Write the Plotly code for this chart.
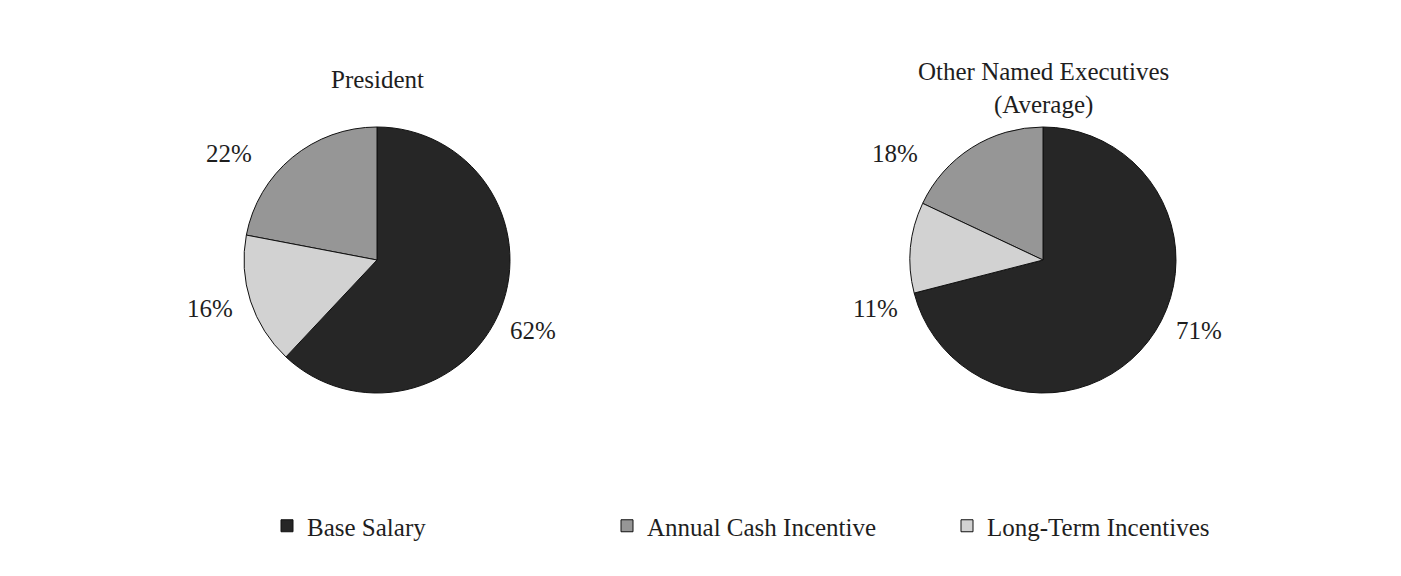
import plotly.graph_objects as go

categories = ["Base Salary", "Annual Cash Incentive", "Long-Term Incentives"]
president_values = [62, 22, 16]
others_values = [71, 18, 11]
titles = ["President", "Other Named Executives<br>(Average)"]
colors = ["#262626", "#969696", "#d2d2d2"]

W, H = 1401, 576
font_family = "Liberation Serif, Times New Roman, serif"
text_color = "#1e1e1e"
PIE_R = 133
PIE_CY = 260

# layout: percent-label offsets (px) from each pie centre, per category
label_offsets = {
    "Base Salary": (156, 70),
    "Annual Cash Incentive": (-148, -107),
    "Long-Term Incentives": (-167, 48),
}

def dom_x(cx, r):
    return [(cx - r) / W, (cx + r) / W]

def dom_y(cy, r):
    return [1 - (cy + r) / H, 1 - (cy - r) / H]

fig = go.Figure()
pies = [(president_values, titles[0], 377, 80), (others_values, titles[1], 1043, 88)]
for vals, title, cx, ty in pies:
    # counterclockwise with rotation 0: first slice (Base Salary) spans
    # clockwise from 12 o'clock, remaining slices continue counterclockwise
    fig.add_trace(go.Pie(
        labels=categories,
        values=vals,
        sort=False,
        direction="counterclockwise",
        rotation=0,
        marker=dict(colors=colors, line=dict(color="#111111", width=1)),
        textinfo="none",
        domain=dict(x=dom_x(cx, PIE_R), y=dom_y(PIE_CY, PIE_R)),
        hoverinfo="label+percent",
    ))
    fig.add_annotation(
        text=title, x=cx / W, y=1 - ty / H, xref="paper", yref="paper",
        xanchor="center", yanchor="middle", showarrow=False,
        font=dict(family=font_family, size=25, color=text_color),
    )
    for cat, v in zip(categories, vals):
        dx, dy = label_offsets[cat]
        fig.add_annotation(
            text=f"{v}%", x=(cx + dx) / W, y=1 - (PIE_CY + dy) / H,
            xref="paper", yref="paper", xanchor="center", yanchor="middle",
            showarrow=False,
            font=dict(family=font_family, size=25, color=text_color),
        )

fig.update_layout(
    width=W, height=H,
    margin=dict(l=0, r=0, t=0, b=0, autoexpand=False),
    paper_bgcolor="white",
    plot_bgcolor="white",
    showlegend=True,
    legend=dict(
        orientation="h",
        x=267 / W, xanchor="left",
        y=1 - 526 / H, yanchor="middle",
        traceorder="normal",
        entrywidth=295, entrywidthmode="pixels",
        font=dict(family=font_family, size=25, color=text_color),
    ),
)

fig.write_html("out.html")
